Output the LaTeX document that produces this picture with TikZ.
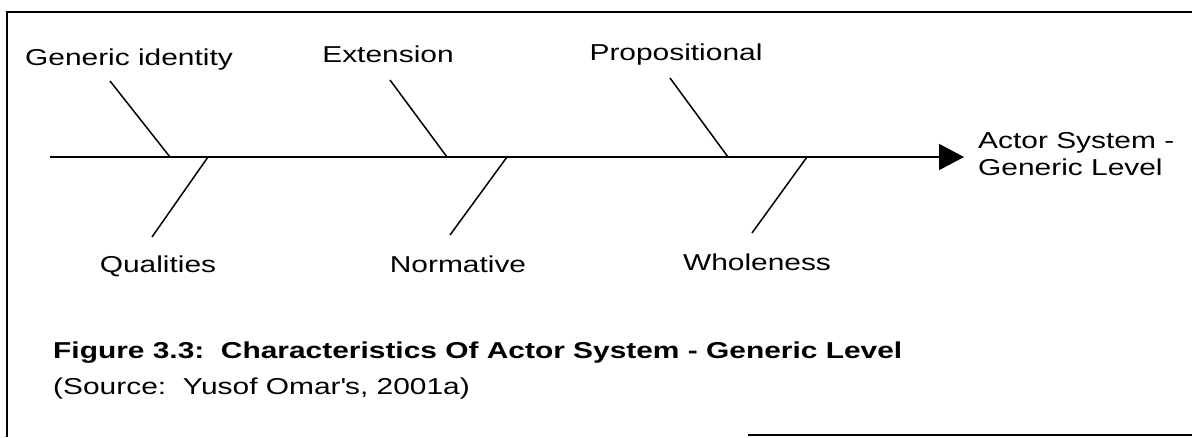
\documentclass[tikz,border=0pt]{standalone}
\usepackage{fontspec}
\setmainfont{Liberation Sans}[FakeStretch=1.3]
\usetikzlibrary{arrows.meta}
\begin{document}
\begin{tikzpicture}[x=1pt,y=-1pt,
    lbl/.style={inner sep=0pt,anchor=base,font=\fontsize{23}{28}\selectfont},
    bone/.style={line width=1.5pt}]
  \useasboundingbox (0,0) rectangle (1192,437);
  % frame
  \draw[line width=1.5pt] (1192,12) -- (7,12) -- (7,437);
  \draw[line width=1.5pt] (748,435) -- (1192,435);
  % spine
  \coordinate (tail) at (50,157);
  \coordinate (head) at (964,157);
  \draw[bone,line width=1.8pt,-{Triangle[length=25pt,width=26pt]}] (tail) -- (head);
  \node[lbl,anchor=north west,align=left,font=\fontsize{23}{27}\selectfont] (effect) at (978,132) {Actor System -\\Generic Level};
  % labels
  \node[lbl] (gid) at (129,65) {Generic identity};
  \node[lbl] (ext) at (388,62) {Extension};
  \node[lbl] (prop) at (676,60) {Propositional};
  \node[lbl] (qual) at (158,272) {Qualities};
  \node[lbl] (norm) at (458,272) {Normative};
  \node[lbl] (whole) at (757,270) {Wholeness};
  % bones
  \coordinate (gid-a) at (110,81);   \coordinate (gid-b) at (170,157);
  \coordinate (ext-a) at (390,80);   \coordinate (ext-b) at (447,157);
  \coordinate (prop-a) at (670,78);  \coordinate (prop-b) at (728,157);
  \coordinate (qual-a) at (208,157); \coordinate (qual-b) at (152,237);
  \coordinate (norm-a) at (507,157); \coordinate (norm-b) at (450,235);
  \coordinate (whole-a) at (807,157); \coordinate (whole-b) at (752,233);
  \draw[bone] (gid-a) -- (gid-b);
  \draw[bone] (ext-a) -- (ext-b);
  \draw[bone] (prop-a) -- (prop-b);
  \draw[bone] (qual-a) -- (qual-b);
  \draw[bone] (norm-a) -- (norm-b);
  \draw[bone] (whole-a) -- (whole-b);
  % caption
  \node[inner sep=0pt,anchor=base west,font=\bfseries\fontsize{23}{28}\selectfont] (cap) at (53,358) {Figure 3.3:\ \ Characteristics Of Actor System - Generic Level};
  \node[inner sep=0pt,anchor=base west,font=\fontsize{23}{28}\selectfont] (src) at (53,394) {(Source:\ \ Yusof Omar\textquotesingle s, 2001a)};
\end{tikzpicture}
\end{document}
